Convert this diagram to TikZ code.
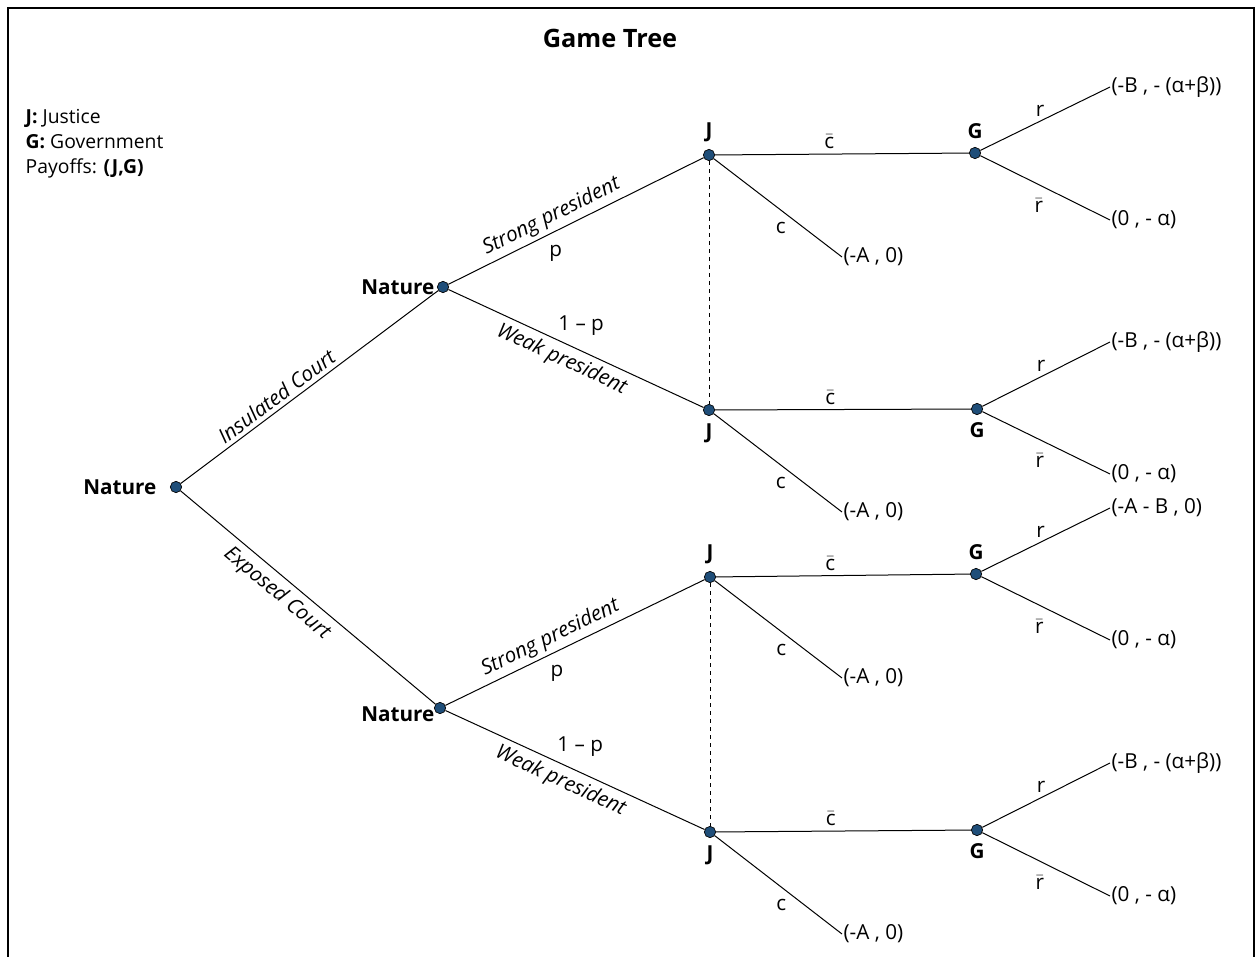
\documentclass[tikz,border=0pt]{standalone}
\usepackage{amsmath}
\usepackage{fontspec}
\setmainfont{Open Sans}
\usetikzlibrary{positioning}
\definecolor{nodeblue}{HTML}{1F4E79}
\newcommand{\nbar}[1]{$\bar{\text{#1}}$}

\begin{document}
\begin{tikzpicture}[x=0.75pt, y=-0.75pt,
  every node/.style={font=\fontsize{15.5}{18}\selectfont},
  dot/.style={circle, draw=black, fill=nodeblue, line width=0.5pt,
              inner sep=0pt, minimum size=8.5pt},
  who/.style={font=\fontsize{15.5}{18}\selectfont\bfseries},
  pay/.style={anchor=west, inner sep=1pt},
  br/.style={line width=0.75pt},
  move/.style={font=\fontsize{15.5}{18}\selectfont\itshape, sloped, inner sep=3pt}
]
\useasboundingbox (0,0) rectangle (1259,956);
\draw[line width=1.5pt] (8,975) -- (8,8) -- (1254,8) -- (1254,975);

\node[font=\fontsize{19}{22}\selectfont\bfseries] (title) at (610,38) {Game Tree};
\node[anchor=west, align=left, font=\fontsize{14.5}{18.75}\selectfont] (key) at (21,144)
  {\textbf{J:} Justice\\ \textbf{G:} Government\\ Payoffs: \textbf{(J,G)}};

\node[dot] (root) at (176,487) {};
\node[dot] (nat1) at (443,287) {};
\node[dot] (nat2) at (440,708) {};
\node[who, anchor=east] (rootlab) at (161,487) {Nature};
\node[who, anchor=east] (nat1lab) at (439,287) {Nature};
\node[who, anchor=east] (nat2lab) at (439,714) {Nature};

\node[dot, label={[who, label distance=2pt]above:J}] (j1) at (709,155) {};
\node[dot, label={[who, label distance=2pt]below:J}] (j2) at (709,410) {};
\node[dot, label={[who, label distance=2pt]above:J}] (j3) at (710,577) {};
\node[dot, label={[who, label distance=2pt]below:J}] (j4) at (710,832) {};

\node[dot, label={[who, label distance=3pt]above:G}] (g1) at (975,153) {};
\node[dot, label={[who, label distance=2pt]below:G}] (g2) at (977,409) {};
\node[dot, label={[who, label distance=3pt]above:G}] (g3) at (976,574) {};
\node[dot, label={[who, label distance=2pt]below:G}] (g4) at (977,830) {};

\node[pay] (c1) at (842,257) {(-A , 0)};
\node[pay] (c2) at (842,512) {(-A , 0)};
\node[pay] (c3) at (842,678) {(-A , 0)};
\node[pay] (c4) at (842,934) {(-A , 0)};
\node[pay] (r1) at (1110,87) {(-B , - (α+β))};
\node[pay] (s1) at (1110,220) {(0 , - α)};
\node[pay] (r2) at (1110,342) {(-B , - (α+β))};
\node[pay] (s2) at (1110,474) {(0 , - α)};
\node[pay] (r3) at (1110,508) {(-A - B , 0)};
\node[pay] (s3) at (1110,640) {(0 , - α)};
\node[pay] (r4) at (1110,763) {(-B , - (α+β))};
\node[pay] (s4) at (1110,896) {(0 , - α)};

\draw[br] (root) -- node[move, above, pos=0.4] {Insulated Court} (nat1);
\draw[br] (root) -- node[move, below, pos=0.42, inner sep=4.5pt] {Exposed Court} (nat2);

\draw[br] (nat1) -- node[move, above, pos=0.43] {Strong president}
  node[below=7pt, pos=0.42] {p} (j1);
\draw[br] (nat1) -- node[move, below, pos=0.47, inner sep=4pt] {Weak president}
  node[above=8pt, pos=0.52] {1 – p} (j2);
\draw[br] (nat2) -- node[move, above, pos=0.43] {Strong president}
  node[below=7pt, pos=0.43] {p} (j3);
\draw[br] (nat2) -- node[move, below, pos=0.47, inner sep=4pt] {Weak president}
  node[above=8pt, pos=0.52] {1 – p} (j4);

\draw[br, dashed] (j1) -- (j2);
\draw[br, dashed] (j3) -- (j4);

\foreach \i in {1,2,3,4} {
  \draw[br] (j\i) -- node[above, pos=0.45] {\nbar{c}} (g\i);
  \draw[br] (j\i) -- node[below left, pos=0.6] {c} (c\i.west);
  \draw[br] (g\i) -- node[above, pos=0.46] {r} (r\i.west);
  \draw[br] (g\i) -- node[below=7pt, pos=0.45] {\nbar{r}} (s\i.west);
}
\end{tikzpicture}
\end{document}
